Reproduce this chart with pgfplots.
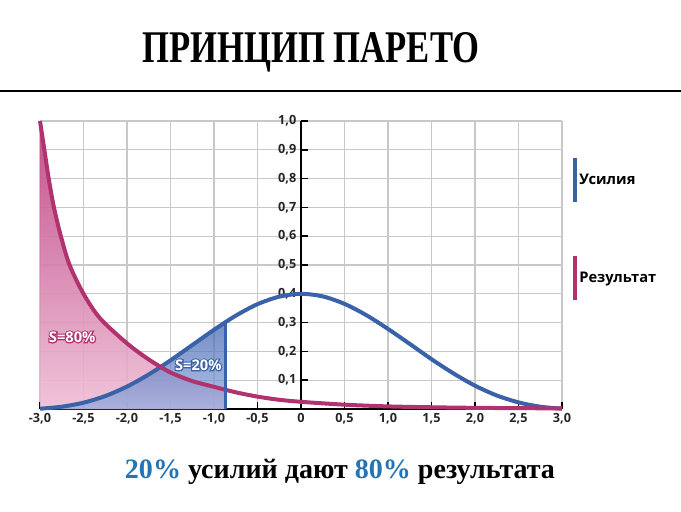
\documentclass[border=0pt]{standalone}
\usepackage{pgfplots}
\pgfplotsset{compat=1.18}
\usepackage{fontspec}
\setmainfont{Open Sans}
\newfontfamily\titlefont{Liberation Serif}
\newfontfamily\halofont[FakeBold=16]{Open Sans}
\definecolor{bl}{RGB}{58,98,168}
\definecolor{pk}{RGB}{176,50,110}
\definecolor{pkdark}{RGB}{190,62,128}
\definecolor{pklight}{RGB}{238,190,214}
\definecolor{bldark}{RGB}{66,104,178}
\definecolor{bllight}{RGB}{150,172,222}
\definecolor{pct}{RGB}{35,117,181}
\definecolor{gridc}{RGB}{200,200,200}

\pgfplotstableread{
x y
-3.00 1.000
-2.95 0.900
-2.90 0.800
-2.84 0.700
-2.76 0.600
-2.66 0.500
-2.50 0.400
-2.31 0.315
-2.00 0.228
-1.75 0.172
-1.50 0.127
-1.25 0.097
-1.00 0.077
-0.75 0.058
-0.50 0.043
-0.25 0.032
0.00 0.025
0.50 0.015
1.00 0.009
1.50 0.006
2.00 0.004
2.50 0.003
3.00 0.002
}\pinkdata

\pgfplotstableread{
x y
-3.00 1.000
-2.95 0.900
-2.90 0.800
-2.84 0.700
-2.76 0.600
-2.66 0.500
-2.50 0.400
-2.31 0.315
-2.00 0.228
-1.75 0.172
-1.50 0.127
-1.25 0.097
-1.00 0.077
-0.87 0.067
}\pinkfill

\pgfplotstableread{
x y
-3.00 0.001
-2.75 0.008
-2.50 0.022
-2.25 0.045
-2.00 0.078
-1.75 0.120
-1.50 0.169
-1.25 0.222
-1.00 0.275
-0.75 0.324
-0.50 0.364
-0.25 0.390
0.00 0.400
0.25 0.391
0.50 0.365
0.75 0.326
1.00 0.278
1.25 0.226
1.50 0.173
1.75 0.124
2.00 0.081
2.25 0.047
2.50 0.023
2.75 0.008
3.00 0.001
}\bluedata

\pgfplotstableread{
x y
-3.00 0.001
-2.75 0.008
-2.50 0.022
-2.25 0.045
-2.00 0.078
-1.75 0.120
-1.50 0.169
-1.25 0.222
-1.00 0.275
-0.87 0.300
}\bluefill

\begin{document}
\begin{tikzpicture}
\useasboundingbox (0,0) rectangle (510.75pt,383.25pt);
\node[anchor=base, inner sep=0pt] at (233.25pt,336pt)
  {\resizebox{252.75pt}{22.5pt}{\titlefont\bfseries ПРИНЦИП ПАРЕТО}};
\draw[line width=1.5pt] (0,315pt) -- (510.75pt,315pt);
\node[anchor=base, inner sep=0pt] at (255pt,24.75pt)
  {\resizebox{322.5pt}{!}{\titlefont\bfseries \textcolor{pct}{20\%} усилий дают \textcolor{pct}{80\%} результата}};
\begin{axis}[
  at={(30pt,76.5pt)}, anchor=south west,
  scale only axis, width=391.5pt, height=216pt,
  xmin=-3, xmax=3, ymin=0, ymax=1,
  clip=false,
  axis lines=middle,
  axis line style={-, line width=1.5pt, black},
  hide obscured x ticks=false, hide obscured y ticks=false,
  xtick={-3,-2.5,-2,-1.5,-1,-0.5,0,0.5,1,1.5,2,2.5,3},
  xticklabels={{-3,0},{-2,5},{-2,0},{-1,5},{-1,0},{-0,5},0,{0,5},{1,0},{1,5},{2,0},{2,5},{3,0}},
  ytick={0.1,0.2,0.3,0.4,0.5,0.6,0.7,0.8,0.9,1.0},
  yticklabels={{0,1},{0,2},{0,3},{0,4},{0,5},{0,6},{0,7},{0,8},{0,9},{1,0}},
  ticklabel style={font=\fontsize{9.5}{11}\selectfont\bfseries, text=black!85},
  grid=major,
  major grid style={line width=0.9pt, gridc},
  tick align=inside,
  major tick length=5pt,
  tick style={line width=1.2pt, black},
  legend image code/.code={\draw[#1, line width=2.6pt] (0pt,-16.5pt) -- (0pt,16.5pt);},
  legend cell align=left,
  legend style={draw=none, fill=none, at={(1.021,0.878)}, anchor=north west,
    inner sep=0pt, row sep=38pt,
    font=\fontsize{11}{13}\selectfont\bfseries,
    /tikz/every even column/.append style={column sep=6pt}},
]
\addplot[draw=none, top color=pkdark, bottom color=pklight, fill opacity=0.9, forget plot, smooth]
  table {\pinkfill} \closedcycle;
\addplot[draw=none, top color=bldark, bottom color=bllight, fill opacity=0.75, forget plot, smooth]
  table {\bluefill} \closedcycle;
\addplot[bl, line width=3pt, smooth] table {\bluedata};
\addlegendentry{Усилия}
\addplot[pk, line width=3pt, smooth] table {\pinkdata};
\addlegendentry{Результат}
\addplot[bl, line width=2.4pt, forget plot] coordinates {(-0.87,0) (-0.87,0.300)};
\node[text=pk, font=\fontsize{11}{13}\selectfont\halofont\bfseries] at (axis cs:-2.63,0.25) {S=80\%};
\node[text=white, font=\fontsize{11}{13}\selectfont\bfseries] at (axis cs:-2.63,0.25) {S=80\%};
\node[text=bl, font=\fontsize{11}{13}\selectfont\halofont\bfseries] at (axis cs:-1.18,0.153) {S=20\%};
\node[text=white, font=\fontsize{11}{13}\selectfont\bfseries] at (axis cs:-1.18,0.153) {S=20\%};
\end{axis}
\end{tikzpicture}
\end{document}
